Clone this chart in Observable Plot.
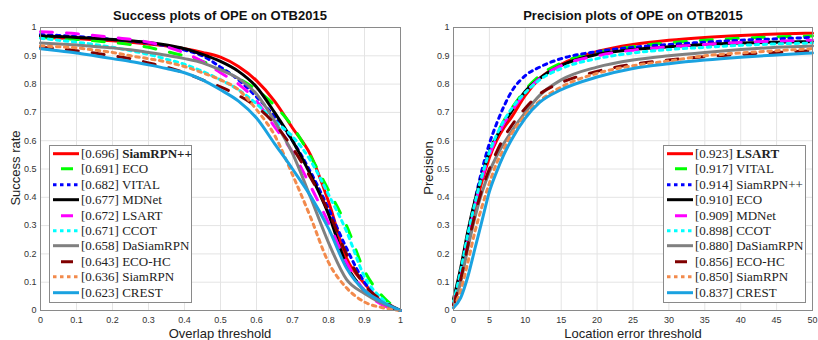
<!DOCTYPE html>
<html>
<head>
<meta charset="utf-8">
<script src="https://cdn.jsdelivr.net/npm/d3@7"></script>
<script src="https://cdn.jsdelivr.net/npm/@observablehq/plot@0.6"></script>
<style>
  html, body { margin: 0; padding: 0; background: #fff; }
  #wrap { position: relative; width: 818px; height: 340px; overflow: hidden; background: #fff; }
  .panel { position: absolute; top: 0; }
  .title { position: absolute; font: bold 13px "Liberation Sans", Arial, sans-serif; color: #111; white-space: nowrap; transform: translate(-50%, -50%); }
  .xlab { position: absolute; font: 13px "Liberation Sans", Arial, sans-serif; color: #222; white-space: nowrap; transform: translate(-50%, -50%); }
  .ylab { position: absolute; font: 13px "Liberation Sans", Arial, sans-serif; color: #222; white-space: nowrap; transform: translate(-50%, -50%) rotate(-90deg); }
  .legend { position: absolute; background: #fff; border: 1px solid #8a8a8a; box-sizing: border-box; }
  .row { position: absolute; left: 0; height: 15.4px; width: 100%; }
  .row svg { position: absolute; left: 3px; top: 0; }
  .row span { position: absolute; left: 31px; top: 0; line-height: 15.4px; font: 13px "Liberation Serif", "Times New Roman", serif; color: #222; white-space: nowrap; }
</style>
</head>
<body>
<div id="wrap"></div>
<script>
// ---------- data ----------
const yTicks = [0, 0.1, 0.2, 0.3, 0.4, 0.5, 0.6, 0.7, 0.8, 0.9, 1];
const succTicks = [0, 0.1, 0.2, 0.3, 0.4, 0.5, 0.6, 0.7, 0.8, 0.9, 1];
const precTicks = [0, 5, 10, 15, 20, 25, 30, 35, 40, 45, 50];

// overlap thresholds
const succX = [0, 0.05, 0.1, 0.15, 0.2, 0.25, 0.3, 0.35, 0.4, 0.45, 0.5, 0.55, 0.6, 0.65, 0.7, 0.75, 0.8, 0.85, 0.9, 0.95, 1];
// location error thresholds
const precX = [0, 1, 2, 3, 4, 5, 6, 7, 8, 10, 12, 15, 20, 25, 30, 35, 40, 45, 50];

const succNames  = ["SiamRPN++", "ECO", "VITAL", "MDNet", "LSART", "CCOT", "DaSiamRPN", "ECO-HC", "SiamRPN", "CREST"];
const succScores = ["0.696", "0.691", "0.682", "0.677", "0.672", "0.671", "0.658", "0.643", "0.636", "0.623"];
const precNames  = ["LSART", "VITAL", "SiamRPN++", "ECO", "MDNet", "CCOT", "DaSiamRPN", "ECO-HC", "SiamRPN", "CREST"];
const precScores = ["0.923", "0.917", "0.914", "0.910", "0.909", "0.898", "0.880", "0.856", "0.850", "0.837"];

// success rate curves
const S_SiamRPNpp = [0.965,0.963,0.96,0.957,0.953,0.948,0.942,0.935,0.925,0.912,0.895,0.862,0.812,0.74,0.645,0.55,0.385,0.185,0.095,0.03,0];
const S_ECO       = [0.965,0.962,0.958,0.953,0.947,0.94,0.93,0.915,0.9,0.88,0.855,0.82,0.78,0.725,0.65,0.545,0.425,0.3,0.14,0.05,0];
const S_VITAL     = [0.975,0.972,0.968,0.963,0.958,0.952,0.945,0.935,0.92,0.9,0.86,0.815,0.755,0.685,0.6,0.49,0.36,0.22,0.1,0.03,0];
const S_MDNet     = [0.97,0.968,0.965,0.962,0.958,0.953,0.947,0.938,0.925,0.905,0.88,0.845,0.79,0.70,0.6,0.48,0.34,0.16,0.07,0.025,0];
const S_LSART     = [0.985,0.982,0.978,0.972,0.965,0.958,0.948,0.932,0.91,0.88,0.84,0.8,0.74,0.65,0.56,0.44,0.31,0.17,0.07,0.02,0];
const S_CCOT      = [0.962,0.955,0.948,0.94,0.93,0.918,0.905,0.888,0.87,0.845,0.815,0.78,0.73,0.67,0.615,0.53,0.41,0.28,0.12,0.04,0];
const S_DaSiamRPN = [0.945,0.942,0.938,0.933,0.928,0.921,0.912,0.902,0.89,0.875,0.85,0.82,0.765,0.67,0.555,0.4,0.24,0.11,0.06,0.025,0];
const S_ECOHC     = [0.93,0.925,0.918,0.91,0.9,0.89,0.875,0.86,0.84,0.815,0.79,0.76,0.72,0.66,0.575,0.47,0.35,0.2,0.09,0.035,0];
const S_SiamRPN   = [0.935,0.932,0.928,0.92,0.912,0.9,0.89,0.878,0.862,0.84,0.815,0.78,0.71,0.62,0.48,0.33,0.17,0.08,0.03,0.01,0];
const S_CREST     = [0.925,0.918,0.91,0.9,0.89,0.88,0.868,0.855,0.84,0.815,0.78,0.74,0.68,0.59,0.5,0.405,0.29,0.15,0.07,0.03,0];

// precision curves
const P_LSART     = [0.02,0.11,0.24,0.36,0.46,0.54,0.6,0.645,0.68,0.76,0.82,0.87,0.915,0.94,0.955,0.965,0.972,0.977,0.98];
const P_VITAL     = [0.02,0.12,0.26,0.38,0.48,0.56,0.62,0.67,0.71,0.78,0.83,0.875,0.912,0.932,0.946,0.955,0.962,0.967,0.97];
const P_SiamRPNpp = [0.02,0.12,0.26,0.39,0.5,0.59,0.66,0.72,0.77,0.83,0.86,0.89,0.915,0.93,0.94,0.948,0.955,0.96,0.965];
const P_ECO       = [0.04,0.15,0.28,0.39,0.48,0.56,0.615,0.66,0.70,0.775,0.82,0.866,0.905,0.922,0.932,0.94,0.945,0.948,0.95];
const P_MDNet     = [0.02,0.12,0.25,0.37,0.47,0.55,0.61,0.66,0.70,0.77,0.82,0.865,0.9,0.92,0.932,0.94,0.947,0.952,0.955];
const P_CCOT      = [0.03,0.14,0.27,0.38,0.48,0.56,0.62,0.67,0.71,0.77,0.815,0.855,0.89,0.91,0.922,0.93,0.937,0.942,0.945];
const P_DaSiamRPN = [0.02,0.1,0.22,0.33,0.42,0.49,0.545,0.59,0.63,0.70,0.76,0.815,0.86,0.885,0.9,0.912,0.922,0.93,0.935];
const P_ECOHC     = [0.02,0.11,0.23,0.34,0.43,0.5,0.56,0.61,0.65,0.715,0.765,0.805,0.845,0.87,0.885,0.897,0.905,0.912,0.918];
const P_SiamRPN   = [0.01,0.07,0.17,0.28,0.37,0.45,0.52,0.57,0.62,0.69,0.74,0.79,0.838,0.865,0.882,0.9,0.91,0.918,0.925];
const P_CREST     = [0.01,0.045,0.12,0.22,0.32,0.42,0.49,0.55,0.6,0.68,0.735,0.78,0.825,0.855,0.872,0.885,0.895,0.903,0.91];

const succSeries = [S_SiamRPNpp, S_ECO, S_VITAL, S_MDNet, S_LSART, S_CCOT, S_DaSiamRPN, S_ECOHC, S_SiamRPN, S_CREST];
const precSeries = [P_LSART, P_VITAL, P_SiamRPNpp, P_ECO, P_MDNet, P_CCOT, P_DaSiamRPN, P_ECOHC, P_SiamRPN, P_CREST];

// ---------- styles (by rank) ----------
const colors = ["#ff0000", "#00ff00", "#0000ff", "#000000", "#ff00ff", "#00ffff", "#808080", "#800000", "#f28a4c", "#1aa2e0"];
const dashes = [null, "12,14", "3.5,4.5", null, "12,14", "3.5,4.5", null, "12,14", "3.5,4.5", null];
const legendDashes = [null, "0,8,12,20", "3.5,3.5", null, "0,8,12,20", "3.5,3.5", null, "0,8,12,20", "3.5,3.5", null];

function panel(xs, series, xDomain, xTicks, marginLeft, marginRight) {
  const marks = [
    Plot.gridX(xTicks, {stroke: "#e4e4e4", strokeOpacity: 1}),
    Plot.gridY(yTicks, {stroke: "#e4e4e4", strokeOpacity: 1}),
    Plot.axisX(xTicks, {tickSize: 0, tickPadding: 6, tickFormat: d => String(d), fontSize: 9, fill: "#333"}),
    Plot.axisY(yTicks, {tickSize: 0, tickPadding: 4, tickFormat: d => String(d), fontSize: 9, fill: "#333"})
  ];
  series.forEach((vals, i) => {
    const rows = vals.map((v, j) => ({x: xs[j], y: v}));
    marks.push(Plot.line(rows, {
      x: "x", y: "y", stroke: colors[i], strokeWidth: 3,
      strokeDasharray: dashes[i] || undefined, curve: "monotone-x"
    }));
  });
  marks.push(Plot.frame({stroke: "#8a8a8a"}));
  return Plot.plot({
    width: 409, height: 340,
    marginLeft, marginRight, marginTop: 27, marginBottom: 30,
    x: {domain: xDomain, label: null},
    y: {domain: [0, 1], label: null},
    style: {fontFamily: "'Liberation Sans', Arial, sans-serif", fontSize: "9px", background: "transparent", overflow: "visible"},
    marks
  });
}

function legend(names, scores, left) {
  const box = document.createElement("div");
  box.className = "legend";
  Object.assign(box.style, {left: left + "px", top: "145px", width: "143px", height: "158px"});
  names.forEach((n, i) => {
    const row = document.createElement("div");
    row.className = "row";
    row.style.top = (i * 15.4) + "px";
    const ns = "http://www.w3.org/2000/svg";
    const svg = document.createElementNS(ns, "svg");
    svg.setAttribute("width", 26); svg.setAttribute("height", 15.4);
    const ln = document.createElementNS(ns, "line");
    ln.setAttribute("x1", 0); ln.setAttribute("x2", 26);
    ln.setAttribute("y1", 7.7); ln.setAttribute("y2", 7.7);
    ln.setAttribute("stroke", colors[i]); ln.setAttribute("stroke-width", 3);
    if (legendDashes[i]) ln.setAttribute("stroke-dasharray", legendDashes[i]);
    svg.appendChild(ln);
    row.appendChild(svg);
    const sp = document.createElement("span");
    sp.innerHTML = "[" + scores[i] + "] " + (i === 0 ? "<b>" + n + "</b>" : n);
    row.appendChild(sp);
    box.appendChild(row);
  });
  return box;
}

function label(cls, text, x, y) {
  const d = document.createElement("div");
  d.className = cls; d.textContent = text;
  d.style.left = x + "px"; d.style.top = y + "px";
  return d;
}

const wrap = document.getElementById("wrap");
const left = panel(succX, succSeries, [0, 1], succTicks, 40, 9);
left.classList.add("panel"); left.style.left = "0px";
const right = panel(precX, precSeries, [0, 50], precTicks, 44, 6);
right.classList.add("panel"); right.style.left = "409px";
wrap.appendChild(left);
wrap.appendChild(right);
wrap.appendChild(label("title", "Success plots of OPE on OTB2015", 220, 15));
wrap.appendChild(label("title", "Precision plots of OPE on OTB2015", 633, 15));
wrap.appendChild(label("xlab", "Overlap threshold", 220, 333));
wrap.appendChild(label("xlab", "Location error threshold", 633, 333));
wrap.appendChild(label("ylab", "Success rate", 15, 168));
wrap.appendChild(label("ylab", "Precision", 428, 168));
wrap.appendChild(legend(succNames, succScores, 49));
wrap.appendChild(legend(precNames, precScores, 663));
</script>
</body>
</html>
